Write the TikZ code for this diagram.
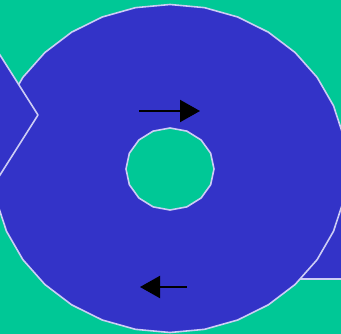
\documentclass[tikz,border=0pt]{standalone}
\usetikzlibrary{arrows.meta}
\definecolor{ground}{RGB}{0,200,150}
\definecolor{body}{RGB}{51,51,200}
\definecolor{rim}{RGB}{205,205,245}
\tikzset{
            solid body/.style={fill=body, draw=rim, line width=1.6pt, line join=round},
            push/.style={line width=2pt, -{Triangle[length=20pt,width=22pt]}}
        }

\begin{document}
\begin{tikzpicture}[
                    x=1pt, y=-1pt
                    ]
                \useasboundingbox (0,0) rectangle (341,334);
                \clip (0,0) rectangle (341,334);
                \fill[ground] (0,0) rectangle (341,334);
                % block behind the ring
                \draw[solid body] (250,160) rectangle (370,279);
                % ring with its hole
                \filldraw[solid body, even odd rule]
                    plot[samples=33, domain=90:450, variable=\t] ({170+177*cos(\t)},{168.5+164*sin(\t)}) -- cycle
                    plot[samples=17, domain=90:450, variable=\t] ({170+44*cos(\t)},{169+41*sin(\t)}) -- cycle;
                % wedge on the left
                \draw[solid body] (-19,25) -- (38,115) -- (-19,205) -- cycle;
                \coordinate (top tail) at (139,111);
                \coordinate (top head) at (200,111);
                \coordinate (low tail) at (187,287);
                \coordinate (low head) at (140,287);
                \draw[push] (top tail) -- (top head);
                \draw[push] (low tail) -- (low head);
            \end{tikzpicture}
\end{document}
